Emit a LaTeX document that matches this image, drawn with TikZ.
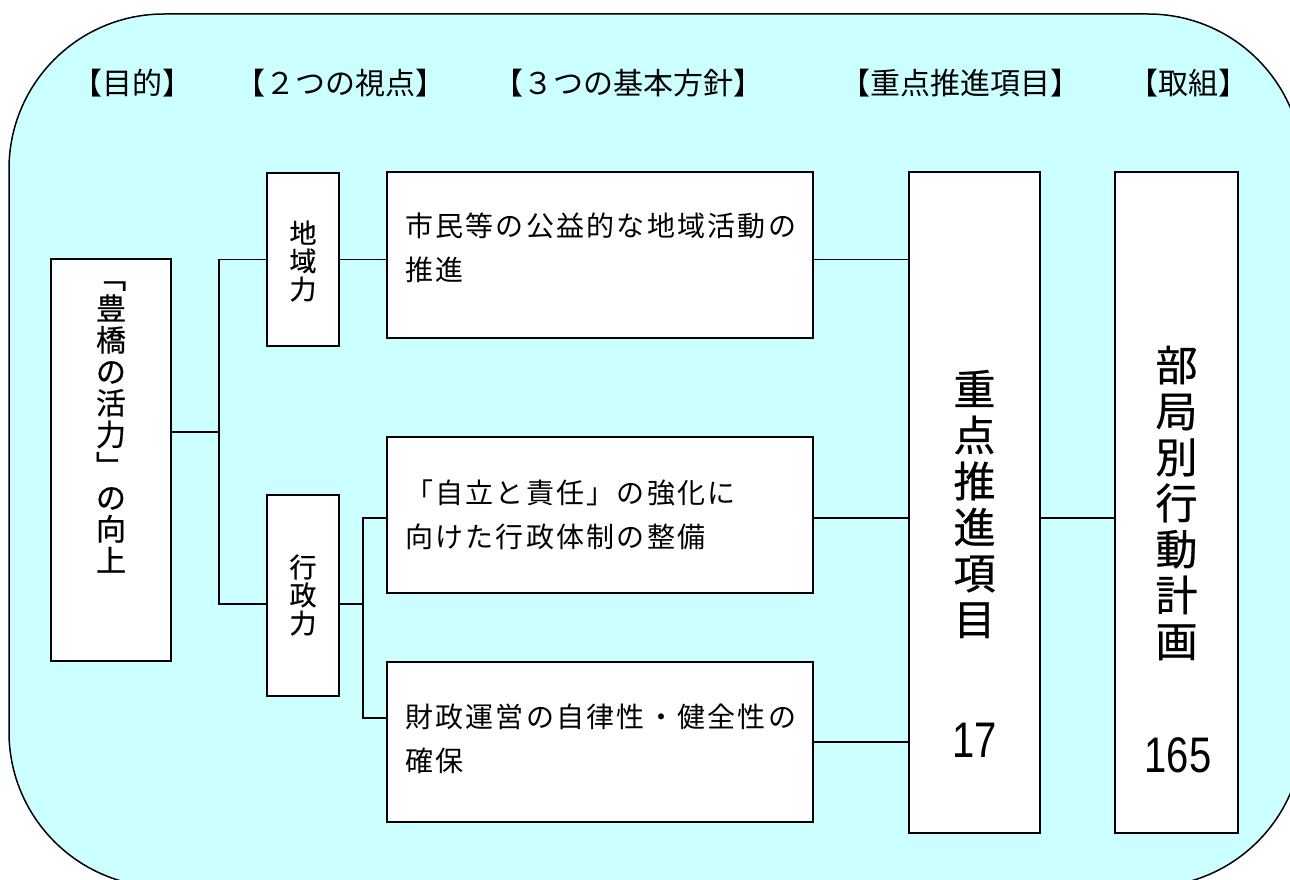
\documentclass[tikz,border=0pt]{standalone}
\usepackage{fontspec}
\setmainfont{Noto Sans CJK JP}
\newfontfamily\boxfont[LetterSpace=8]{Noto Sans CJK JP}
\newfontfamily\colfont[FakeBold=0.6]{Noto Sans CJK JP}
\newfontfamily\numfont[FakeStretch=0.8]{Liberation Sans}
\definecolor{paleaqua}{HTML}{CCFFFF}

\begin{document}
\begin{tikzpicture}[x=1pt, y=-1pt,
    plate/.style={draw, line width=1.7pt, fill=white},
    link/.style={line width=1.8pt},
    heading/.style={inner sep=0pt, font=\fontsize{30}{36}\selectfont},
    vcol/.style={align=center, inner sep=0pt},
    boxtxt/.style={anchor=north west, align=left, inner sep=0pt,
      font=\boxfont\fontsize{28}{44}\selectfont}
  ]
  \clip (0,0) rectangle (1290,880); % page size
  \draw[fill=paleaqua, line width=1.5pt, rounded corners=155pt]
    (9,14) rectangle (1303,887);

  % column headings
  \foreach \t/\x [count=\i] in {【目的】/132, 【２つの視点】/340,
      【３つの基本方針】/628, 【重点推進項目】/960, 【取組】/1188} {
    \node[heading] (head\i) at (\x,83) {\t};
  }

  % boxes: name/centre x/centre y/width/height
  \foreach \nm/\cx/\cy/\w/\h in {aim/111/460/120/402,
      chiiki/303/259.5/72/173, gyosei/303/595.5/72/201,
      kihon1/600/255/426/166, kihon2/600/515/426/156, kihon3/600/742/426/160,
      juten/974.5/502.5/131/661, torikumi/1176.5/502.5/123/661} {
    \node[plate, minimum width=\w pt, minimum height=\h pt] (\nm) at (\cx,\cy) {};
  }

  % texts
  \node[vcol, font=\colfont\fontsize{30}{31.5}\selectfont] (aim-txt) at (111,427)
    {﹁\\豊\\橋\\の\\活\\力\\﹂\\の\\向\\上};
  \node[vcol, font=\colfont\fontsize{27}{28}\selectfont] (chiiki-txt) at (303,261) {地\\域\\力};
  \node[vcol, font=\colfont\fontsize{27}{28}\selectfont] (gyosei-txt) at (303,595) {行\\政\\力};
  \node[boxtxt] (kihon1-txt) at (405,213) {市民等の公益的な地域活動の\\推進};
  \node[boxtxt] (kihon2-txt) at (405,480) {「自立と責任」の強化に\\向けた行政体制の整備};
  \node[boxtxt] (kihon3-txt) at (405,704) {財政運営の自律性・健全性の\\確保};
  \node[vcol, font=\colfont\fontsize{42}{46}\selectfont] (juten-txt) at (974.5,504)
    {重\\点\\推\\進\\項\\目};
  \node[inner sep=0pt, font=\numfont\fontsize{50}{50}\selectfont] (juten-num) at (974.5,740) {17};
  \node[vcol, font=\colfont\fontsize{42}{46}\selectfont] (torikumi-txt) at (1176.5,503)
    {部\\局\\別\\行\\動\\計\\画};
  \node[inner sep=0pt, font=\numfont\fontsize{50}{50}\selectfont] (torikumi-num) at (1178,755) {165};

  % connectors
  \coordinate (fork1) at (219,432);
  \coordinate (fork2) at (363,604);
  \coordinate (tap2) at (363,518);
  \coordinate (tap3) at (363,718);
  \draw[link] (aim.east |- fork1) -- (fork1);
  \draw[link] (chiiki.west) -| (fork1) |- (gyosei.west |- fork2);
  \draw[link] (chiiki.east) -- (kihon1.west |- chiiki.east);
  \draw[link] (gyosei.east |- fork2) -- (fork2);
  \draw[link] (kihon2.west |- tap2) -- (tap2) -- (tap3) -- (kihon3.west |- tap3);
  \draw[link] (kihon1.east |- chiiki.east) -- (juten.west |- chiiki.east);
  \draw[link] (kihon2.east |- tap2) -- (juten.west |- tap2);
  \draw[link] (kihon3.east) -- (juten.west |- kihon3.east);
  \draw[link] (juten.east |- tap2) -- (torikumi.west |- tap2);
\end{tikzpicture}
\end{document}
